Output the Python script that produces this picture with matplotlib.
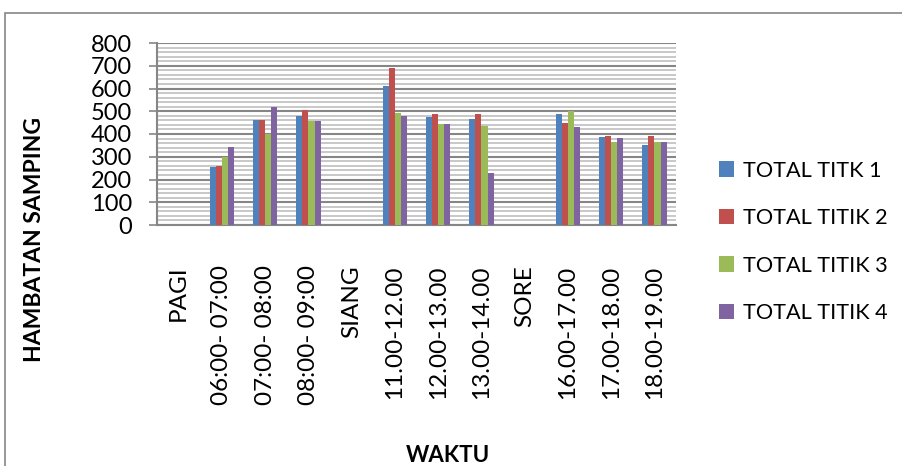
import matplotlib
matplotlib.use("Agg")
import matplotlib.pyplot as plt
from matplotlib.patches import Rectangle
import numpy as np

plt.rcParams['font.family'] = ['Lato', 'DejaVu Sans']

categories = ["PAGI", "06:00- 07:00", "07:00- 08:00", "08:00- 09:00",
              "SIANG", "11.00-12.00", "12.00-13.00", "13.00-14.00",
              "SORE", "16.00-17.00", "17.00-18.00", "18.00-19.00"]

titik_1 = [0, 254, 463, 481, 0, 612, 474, 466, 0, 487, 387, 352]
titik_2 = [0, 260, 460, 504, 0, 690, 487, 487, 0, 450, 393, 393]
titik_3 = [0, 300, 398, 455, 0, 493, 443, 436, 0, 499, 364, 363]
titik_4 = [0, 341, 518, 455, 0, 479, 443, 230, 0, 431, 383, 363]

series_names = ["TOTAL TITK 1", "TOTAL TITIK 2", "TOTAL TITIK 3", "TOTAL TITIK 4"]
series = [titik_1, titik_2, titik_3, titik_4]
colors = ["#4F81BD", "#C0504D", "#9BBB59", "#8064A2"]

fig = plt.figure(figsize=(9.02, 4.66), dpi=100)
ax = fig.add_axes([157 / 902, 1 - 225 / 466, (676 - 157) / 902, (225 - 43) / 466])

# outer chart frame
fig.add_artist(Rectangle((5 / 902, -0.1), 1.2, 1 - 13 / 466 + 0.1,
                         transform=fig.transFigure, fill=False,
                         edgecolor="#868686", linewidth=1.2))

x = np.arange(len(categories))
w = 0.142
for i, (vals, c, name) in enumerate(zip(series, colors, series_names)):
    ax.bar(x + (i - 1.5) * w, vals, width=w, color=c, label=name,
           linewidth=0, zorder=3)

ax.set_xlim(-0.5, len(categories) - 0.5)
ax.set_ylim(0, 800)
ax.set_yticks(np.arange(0, 801, 100))
ax.set_yticks(np.arange(0, 801, 20), minor=True)
ax.grid(axis="y", which="minor", color="#BFBFBF", linewidth=1.2, zorder=0)
ax.grid(axis="y", which="major", color="#868686", linewidth=1.5, zorder=1)
ax.tick_params(axis="y", which="minor", length=0)
ax.tick_params(axis="y", which="major", length=6, width=1.2, color="#868686",
               labelsize=17, pad=12)

ax.set_xticks(x)
ax.set_xticklabels(categories, rotation=90, fontsize=17.5)
ax.tick_params(axis="x", length=0, pad=29)

for s in ["top", "right"]:
    ax.spines[s].set_visible(False)
for s in ["left", "bottom"]:
    ax.spines[s].set_color("#868686")
    ax.spines[s].set_linewidth(1.5)
ax.set_axisbelow(True)

ax.set_ylabel("HAMBATAN SAMPING", fontsize=16.5, fontweight="bold")
ax.yaxis.set_label_coords(-0.216, -0.082)
fig.text(448 / 902, 1 - 455 / 466, "WAKTU", ha="center", va="center",
         fontsize=16, fontweight="bold")

leg = fig.legend(loc="center left", bbox_to_anchor=(699 / 902, 1 - 242 / 466),
                 frameon=False, fontsize=15.6, handlelength=0.72, handleheight=0.72,
                 handletextpad=0.4, labelspacing=1.27)

fig.savefig("out.png", dpi=100)
